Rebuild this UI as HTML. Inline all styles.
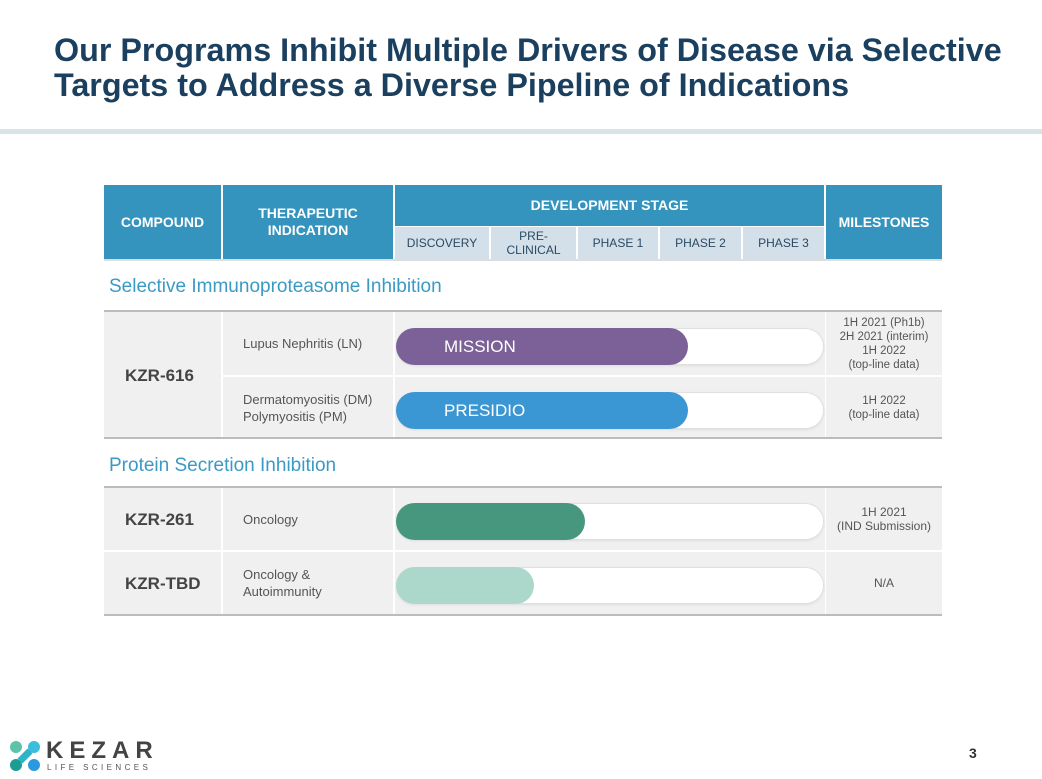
<!DOCTYPE html>
<html><head><meta charset="utf-8"><style>
body{margin:0;width:1042px;height:779px;position:relative;background:#fff;font-family:"Liberation Sans",sans-serif;overflow:hidden}
.a{position:absolute;box-sizing:border-box}
.h{background:#3594bd;color:#fff;font-weight:bold;font-size:14px;display:flex;align-items:center;justify-content:center;text-align:center;line-height:17px}
.s{background:#d3dfe9;color:#2b4a63;font-size:12px;display:flex;align-items:center;justify-content:center;text-align:center;line-height:14px}
.c{background:#f0f0f0;display:flex;align-items:center;color:#555;font-size:13px;line-height:17px}
.m{justify-content:center;text-align:center;font-size:11.5px;line-height:14px;color:#555}
.sec{color:#3a9ac4;font-size:19px}
.rule{background:#bcbcbc;height:2px;left:104px;width:838px}
.track{background:#fff;border-radius:19px;box-shadow:inset 0 0 0 1px #e0e0e0,0 1px 2px #ddd}
.fill{border-radius:19px;color:#fff;font-size:17px;display:flex;align-items:center;padding-left:48px}
</style></head><body>
<div class="a" style="left:54px;top:33px;font-size:32.3px;font-weight:bold;color:#1b3f5e;line-height:35px;white-space:nowrap">Our Programs Inhibit Multiple Drivers of Disease via Selective<br>Targets to Address a Diverse Pipeline of Indications</div>
<div class="a" style="left:0;top:129px;width:1042px;height:5px;background:#d5e4e6"></div>

<div class="a h" style="left:104px;top:185px;width:117px;height:74px">COMPOUND</div>
<div class="a h" style="left:223px;top:185px;width:170px;height:74px">THERAPEUTIC<br>INDICATION</div>
<div class="a h" style="left:395px;top:185px;width:429px;height:41px">DEVELOPMENT STAGE</div>
<div class="a h" style="left:826px;top:185px;width:116px;height:74px">MILESTONES</div>
<div class="a s" style="left:395px;top:227px;width:94px;height:32px">DISCOVERY</div>
<div class="a s" style="left:491px;top:227px;width:85px;height:32px">PRE-<br>CLINICAL</div>
<div class="a s" style="left:578px;top:227px;width:80px;height:32px">PHASE 1</div>
<div class="a s" style="left:660px;top:227px;width:81px;height:32px">PHASE 2</div>
<div class="a s" style="left:743px;top:227px;width:81px;height:32px">PHASE 3</div>
<div class="a" style="left:104px;top:259px;width:838px;height:2px;background:#ddd"></div>

<div class="a sec" style="left:109px;top:276px">Selective Immunoproteasome Inhibition</div>
<div class="a rule" style="top:310px"></div>
<div class="a c" style="left:104px;top:312px;width:117px;height:126px;padding-left:21px;font-weight:bold;font-size:17px;color:#444">KZR-616</div>
<div class="a c" style="left:223px;top:312px;width:170px;height:63px;padding-left:20px">Lupus Nephritis (LN)</div>
<div class="a c" style="left:223px;top:377px;width:170px;height:61px;padding-left:20px">Dermatomyositis (DM)<br>Polymyositis (PM)</div>
<div class="a c" style="left:395px;top:312px;width:430px;height:63px"></div>
<div class="a c" style="left:395px;top:377px;width:430px;height:61px"></div>
<div class="a c m" style="left:826px;top:312px;width:116px;height:63px">1H 2021 (Ph1b)<br>2H 2021 (interim)<br>1H 2022<br>(top-line data)</div>
<div class="a c m" style="left:826px;top:377px;width:116px;height:61px">1H 2022<br>(top-line data)</div>
<div class="a rule" style="top:437px"></div>

<div class="a sec" style="left:109px;top:455px">Protein Secretion Inhibition</div>
<div class="a rule" style="top:486px"></div>
<div class="a c" style="left:104px;top:488px;width:117px;height:62px;padding-left:21px;font-weight:bold;font-size:17px;color:#444">KZR-261</div>
<div class="a c" style="left:104px;top:552px;width:117px;height:62px;padding-left:21px;font-weight:bold;font-size:17px;color:#444">KZR-TBD</div>
<div class="a c" style="left:223px;top:488px;width:170px;height:62px;padding-left:20px">Oncology</div>
<div class="a c" style="left:223px;top:552px;width:170px;height:62px;padding-left:20px">Oncology &amp;<br>Autoimmunity</div>
<div class="a c" style="left:395px;top:488px;width:430px;height:62px"></div>
<div class="a c" style="left:395px;top:552px;width:430px;height:62px"></div>
<div class="a c m" style="left:826px;top:488px;width:116px;height:62px;font-size:12px">1H 2021<br>(IND Submission)</div>
<div class="a c m" style="left:826px;top:552px;width:116px;height:62px;font-size:12px">N/A</div>
<div class="a rule" style="top:614px"></div>

<div id="bars"></div>

<svg class="a" style="left:8px;top:739px" width="34" height="34">
<circle cx="8" cy="8" r="6" fill="#5cc3a8"/><circle cx="26" cy="8" r="6" fill="#3bbde0"/>
<circle cx="8" cy="26" r="6" fill="#1c9c93"/><circle cx="26" cy="26" r="6" fill="#2a9ae0"/>
<path d="M12 22 L22 12" stroke="#2fb3c6" stroke-width="7"/></svg>
<div class="a" style="left:46px;top:738px;font-size:24px;font-weight:bold;color:#444;letter-spacing:6px;line-height:25px">KEZAR</div>
<div class="a" style="left:47px;top:763px;font-size:8px;color:#555;letter-spacing:3.4px">LIFE SCIENCES</div>
<div class="a" style="left:969px;top:745px;font-size:14px;font-weight:bold;color:#333">3</div>

<script>
const stageEdges=[394,490,577,659,742,825];
const programs=["MISSION","PRESIDIO","KZR-261","KZR-TBD"];
const progress=[3.35,3.35,2.1,1.5];
const labels=["MISSION","PRESIDIO","",""];
const colors=["#7b6198","#3b97d4","#47977e","#acd8cb"];
const rowTops=[328,392,503,567];
function xScale(v){const i=Math.min(Math.floor(v),4);return stageEdges[i]+(v-i)*(stageEdges[i+1]-stageEdges[i]);}
const host=document.getElementById('bars');
programs.forEach((p,i)=>{
  const t=document.createElement('div');
  t.className='a track';
  
  
  t.style.cssText=`left:396px;top:${rowTops[i]}px;width:428px;height:37px`;
  host.appendChild(t);
  const f=document.createElement('div');
  f.className='a fill';
  
  
  f.style.cssText=`left:396px;top:${rowTops[i]}px;width:${xScale(progress[i])-396}px;height:37px;background:${colors[i]}`;
  f.textContent=labels[i];
  host.appendChild(f);
});
</script>
</body></html>
